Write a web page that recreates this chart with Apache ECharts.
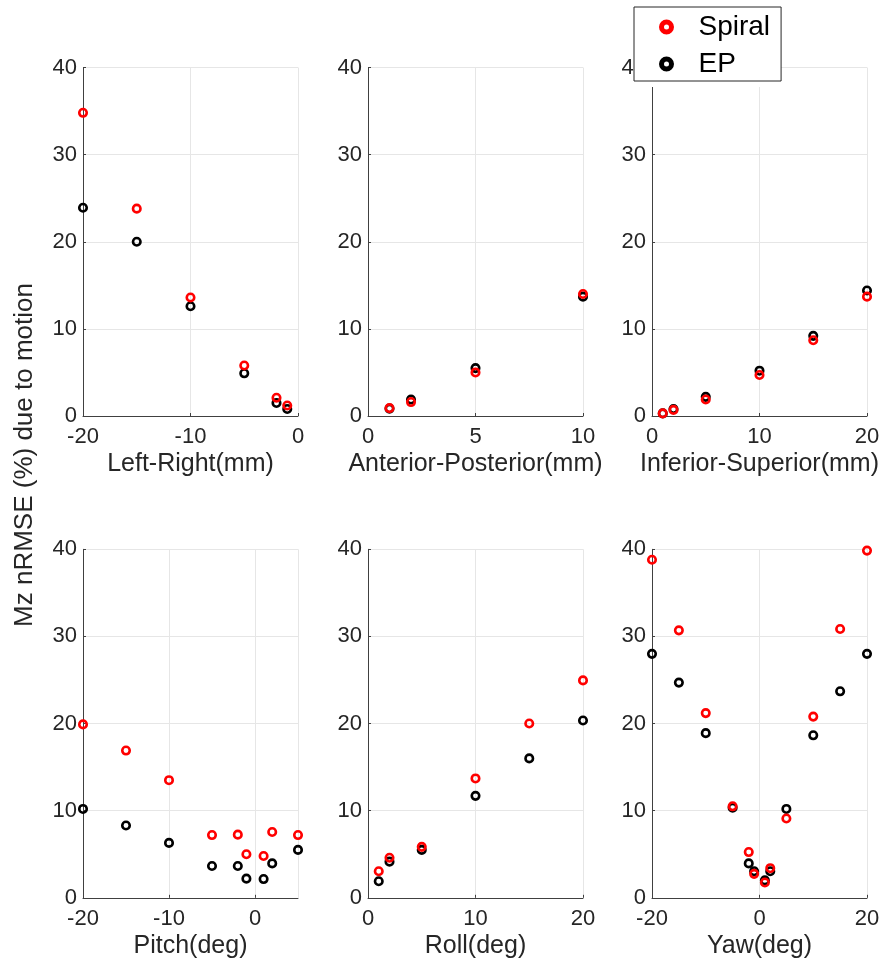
<!DOCTYPE html>
<html>
<head>
<meta charset="utf-8">
<script src="https://cdn.jsdelivr.net/npm/echarts@6/dist/echarts.min.js"></script>
<style>
  html, body { margin: 0; padding: 0; background: #fff; }
  #chart { width: 884px; height: 968px; }
</style>
</head>
<body>
<div id="chart"></div>
<script>
// Motion sweeps (x) and normalised RMSE of Mz (%) for the two sequences
const lrPos      = [-20, -15, -10, -5, -2, -1];
const lrSpiral   = [34.8, 23.8, 13.6, 5.8, 2.1, 1.2];
const lrEP       = [23.9, 20.0, 12.6, 4.9, 1.5, 0.8];

const apPos      = [1, 2, 5, 10];
const apSpiral   = [0.9, 1.6, 5.0, 14.0];
const apEP       = [0.85, 1.9, 5.5, 13.7];

const isPos      = [1, 2, 5, 10, 15, 20];
const isSpiral   = [0.3, 0.7, 1.9, 4.7, 8.7, 13.7];
const isEP       = [0.3, 0.8, 2.2, 5.2, 9.2, 14.4];

const pitchAng   = [-20, -15, -10, -5, -2, -1, 1, 2, 5];
const pitchSpiral= [19.9, 16.9, 13.5, 7.2, 7.25, 5.0, 4.8, 7.55, 7.2];
const pitchEP    = [10.2, 8.3, 6.3, 3.65, 3.65, 2.2, 2.15, 3.95, 5.5];

const rollAng    = [1, 2, 5, 10, 15, 20];
const rollSpiral = [3.05, 4.6, 5.85, 13.7, 20.0, 24.95];
const rollEP     = [1.9, 4.15, 5.5, 11.7, 16.0, 20.35];

const yawAng     = [-20, -15, -10, -5, -2, -1, 1, 2, 5, 10, 15, 20];
const yawSpiral  = [38.8, 30.7, 21.2, 10.5, 5.25, 2.75, 1.75, 3.4, 9.1, 20.8, 30.85, 39.85];
const yawEP      = [28.0, 24.7, 18.9, 10.35, 3.95, 3.05, 2.0, 3.05, 10.2, 18.65, 23.7, 28.0];

const yTicks = { min: 0, max: 40, interval: 10 };
const yTitle = 'Mz nRMSE (%) due to motion';

const panels = [
  { name: 'Left-Right(mm)',          x: lrPos,    s: lrSpiral,    e: lrEP,    min: -20, max: 0,  interval: 10 },
  { name: 'Anterior-Posterior(mm)',  x: apPos,    s: apSpiral,    e: apEP,    min: 0,   max: 10, interval: 5 },
  { name: 'Inferior-Superior(mm)',   x: isPos,    s: isSpiral,    e: isEP,    min: 0,   max: 20, interval: 10 },
  { name: 'Pitch(deg)',              x: pitchAng, s: pitchSpiral, e: pitchEP, min: -20, max: 5,  interval: 10, hideMax: true },
  { name: 'Roll(deg)',               x: rollAng,  s: rollSpiral,  e: rollEP,  min: 0,   max: 20, interval: 10 },
  { name: 'Yaw(deg)',                x: yawAng,   s: yawSpiral,   e: yawEP,   min: -20, max: 20, interval: 20 }
];

const FONT = "'Liberation Sans', Arial, Helvetica, sans-serif";
const TEXT = '#262626';
const AXIS = '#404040';
const GRIDC = '#e6e6e6';
const RED = '#ff0000';
const BLACK = '#000000';

const colLeft = [83, 368, 652];
const rowTop = [67.5, 549.3];
const cellW = 215;
const cellH = 348.5;

const grids = [], xAxes = [], yAxes = [], series = [];

panels.forEach((p, i) => {
  const c = i % 3, r = Math.floor(i / 3);
  grids.push({ left: colLeft[c], top: rowTop[r], width: cellW, height: cellH, containLabel: false });
  xAxes.push({
    type: 'value', gridIndex: i, min: p.min, max: p.max, interval: p.interval,
    name: p.name, nameLocation: 'middle', nameGap: 36,
    nameTextStyle: { fontFamily: FONT, fontSize: 25, color: TEXT },
    axisLine: { show: true, onZero: false, lineStyle: { color: AXIS, width: 1 } },
    axisTick: { show: true, inside: true, length: 3, lineStyle: { color: AXIS } },
    axisLabel: { fontFamily: FONT, fontSize: 22, color: TEXT, margin: 10, showMaxLabel: !p.hideMax },
    splitLine: { show: true, lineStyle: { color: GRIDC, width: 1 } }
  });
  yAxes.push({
    type: 'value', gridIndex: i, min: yTicks.min, max: yTicks.max, interval: yTicks.interval,
    axisLine: { show: true, onZero: false, lineStyle: { color: AXIS, width: 1 } },
    axisTick: { show: true, inside: true, length: 3, lineStyle: { color: AXIS } },
    axisLabel: { fontFamily: FONT, fontSize: 22, color: TEXT, margin: 6 },
    splitLine: { show: true, lineStyle: { color: GRIDC, width: 1 } }
  });
  const ring = col => ({ color: 'rgba(0,0,0,0)', borderColor: col, borderWidth: 2.6, opacity: 1 });
  series.push({
    name: 'EP', type: 'scatter', xAxisIndex: i, yAxisIndex: i,
    symbol: 'circle', symbolSize: 7.5, itemStyle: ring(BLACK), z: 2,
    data: p.x.map((v, k) => [v, p.e[k]])
  });
  series.push({
    name: 'Spiral', type: 'scatter', xAxisIndex: i, yAxisIndex: i,
    symbol: 'circle', symbolSize: 7.5, itemStyle: ring(RED), z: 3,
    data: p.x.map((v, k) => [v, p.s[k]])
  });
});

const chart = echarts.init(document.getElementById('chart'), null, { renderer: 'canvas' });
chart.setOption({
  animation: false,
  backgroundColor: '#ffffff',
  grid: grids,
  xAxis: xAxes,
  yAxis: yAxes,
  series: series,
  legend: {
    orient: 'vertical', left: 634, top: 7,
    padding: [5, 11, 2, 25],
    itemWidth: 54, itemHeight: 10, itemGap: 7,
    backgroundColor: '#ffffff', borderColor: '#262626', borderWidth: 1,
    textStyle: { fontFamily: FONT, fontSize: 28, color: BLACK, lineHeight: 30 },
    data: [
      { name: 'Spiral', icon: 'circle', itemStyle: { color: '#ffffff', borderColor: RED, borderWidth: 5, opacity: 1 } },
      { name: 'EP', icon: 'circle', itemStyle: { color: '#ffffff', borderColor: BLACK, borderWidth: 5, opacity: 1 } }
    ],
    z: 20
  },
  graphic: [
    {
      type: 'rect', z: 15, silent: true,
      shape: { x: 634, y: 79, width: 148, height: 8 },
      style: { fill: '#ffffff' }
    },
    {
      type: 'text', z: 10, silent: true,
      x: 25, y: 455, rotation: Math.PI / 2,
      style: {
        text: yTitle, fontFamily: FONT, fontSize: 26, fill: TEXT,
        align: 'center', verticalAlign: 'middle'
      }
    }
  ]
});
</script>
</body>
</html>
